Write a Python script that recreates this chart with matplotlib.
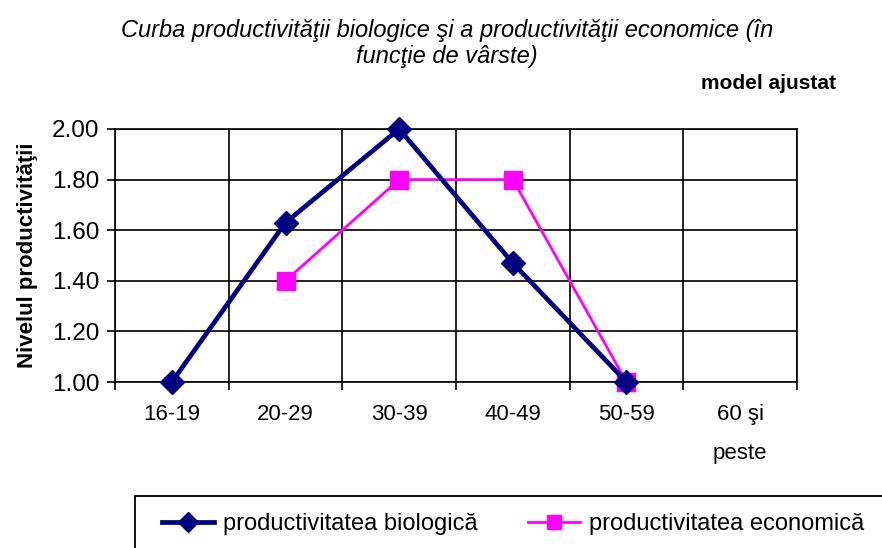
import numpy as np
import matplotlib.pyplot as plt
from matplotlib.patches import Rectangle
from matplotlib.lines import Line2D

plt.rcParams['font.family'] = ['Liberation Sans', 'DejaVu Sans']

categories = ['16-19', '20-29', '30-39', '40-49', '50-59', '60 şi\npeste']
biologica = [1.00, 1.63, 2.00, 1.47, 1.00, np.nan]
economica = [np.nan, 1.40, 1.80, 1.80, 1.00, np.nan]
yticks = [1.00, 1.20, 1.40, 1.60, 1.80, 2.00]

fig = plt.figure(figsize=(8.82, 5.48), dpi=100)
ax = fig.add_axes([0.1304, 0.3029, 0.7732, 0.4617])

x = np.arange(len(categories))
ax.plot(x, biologica, color='#000080', lw=3.4, marker='D', ms=12.5, zorder=4, clip_on=False)
ax.plot(x, economica, color='#FF00FF', lw=2.0, marker='s', ms=13, zorder=3, clip_on=False)

ax.set_xlim(-0.5, len(categories) - 0.5)
ax.set_ylim(1.0, 2.0)
ax.set_yticks(yticks)
ax.set_yticklabels([f'{v:.2f}' for v in yticks])
ax.set_xticks(x)
ax.set_xticklabels(categories)
ax.set_xticks(np.arange(-0.5, len(categories)), minor=True)
ax.tick_params(axis='x', which='major', length=0, pad=16, labelsize=16)
ax.tick_params(axis='x', which='minor', length=6, width=1.2, direction='out')
ax.tick_params(axis='y', length=6, width=1.2, direction='out', pad=5, labelsize=17.5)

ax.grid(True, which='minor', axis='x', color='black', lw=1.2)
ax.grid(True, which='major', axis='y', color='black', lw=1.2)
for s in ax.spines.values():
    s.set_color('black')
    s.set_linewidth(1.2)
for lab in ax.get_xticklabels():
    lab.set_verticalalignment('top')
    lab.set_linespacing(2.1)

ax.set_ylabel('Nivelul productivităţii', fontsize=16, fontweight='bold', labelpad=10)

fig.text(0.507, 0.945, 'Curba productivităţii biologice şi a productivităţii economice (în',
         ha='center', va='center', fontsize=17, style='italic')
fig.text(0.507, 0.896, 'funcţie de vârste)', ha='center', va='center', fontsize=17, style='italic')
fig.text(0.948, 0.847, 'model ajustat', ha='right', va='center', fontsize=15, fontweight='bold')

# legend box (runs off the page on the right and bottom)
fig.patches.append(Rectangle((135 / 882, -0.1), 1.0, 1 - 496 / 548 + 0.1,
                             transform=fig.transFigure, fill=False,
                             edgecolor='black', lw=1.3))
h1 = Line2D([], [], color='#000080', lw=3.4, marker='D', ms=10)
h2 = Line2D([], [], color='#FF00FF', lw=2.0, marker='s', ms=10)
fig.legend([h1, h2], ['productivitatea biologică', 'productivitatea economică'],
           loc='center left', bbox_to_anchor=(162 / 882, 1 - 524 / 548),
           ncol=2, frameon=False, fontsize=17, handlelength=2.2,
           handletextpad=0.4, columnspacing=2.1, borderpad=0, borderaxespad=0)

fig.savefig('out.png', dpi=100)
